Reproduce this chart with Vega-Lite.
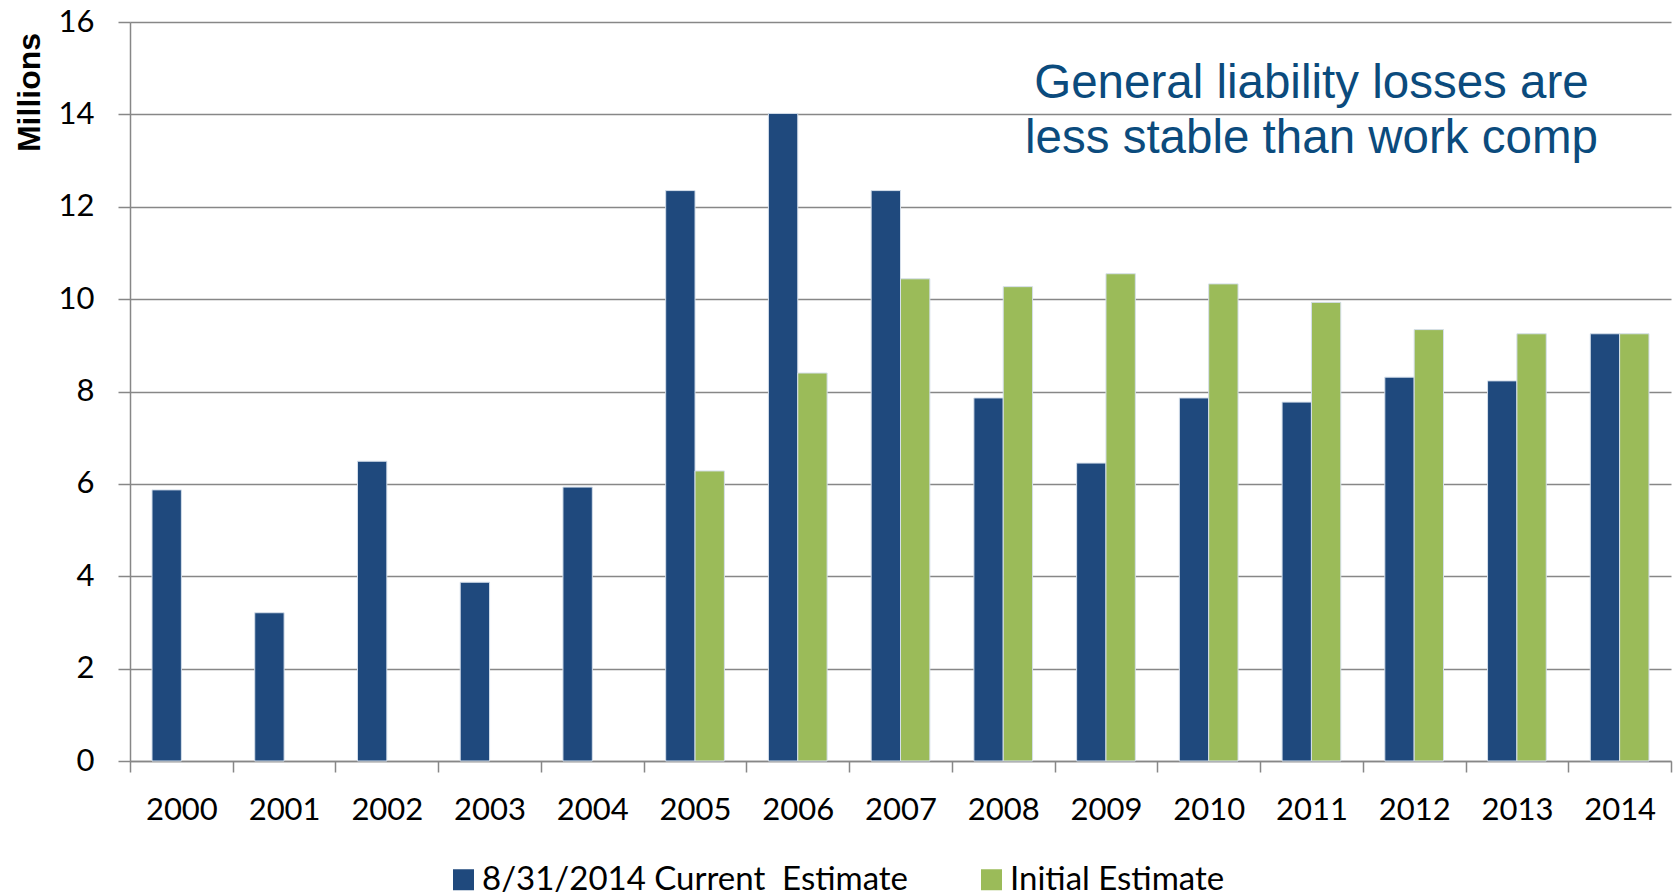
{
  "$schema": "https://vega.github.io/schema/vega-lite/v6.json",
  "autosize": "none",
  "width": 1541,
  "height": 739,
  "padding": {"left": 130, "top": 22, "right": 4, "bottom": 133},
  "background": "#ffffff",
  "config": {"view": {"stroke": null}},
  "datasets": {
    "losses": [
      {"year": "2000", "series": "8/31/2014 Current\u00a0 Estimate", "value": 5.87},
      {"year": "2001", "series": "8/31/2014 Current\u00a0 Estimate", "value": 3.21},
      {"year": "2002", "series": "8/31/2014 Current\u00a0 Estimate", "value": 6.49},
      {"year": "2003", "series": "8/31/2014 Current\u00a0 Estimate", "value": 3.87},
      {"year": "2004", "series": "8/31/2014 Current\u00a0 Estimate", "value": 5.93},
      {"year": "2005", "series": "8/31/2014 Current\u00a0 Estimate", "value": 12.35},
      {"year": "2006", "series": "8/31/2014 Current\u00a0 Estimate", "value": 14.02},
      {"year": "2007", "series": "8/31/2014 Current\u00a0 Estimate", "value": 12.35},
      {"year": "2008", "series": "8/31/2014 Current\u00a0 Estimate", "value": 7.86},
      {"year": "2009", "series": "8/31/2014 Current\u00a0 Estimate", "value": 6.45},
      {"year": "2010", "series": "8/31/2014 Current\u00a0 Estimate", "value": 7.86},
      {"year": "2011", "series": "8/31/2014 Current\u00a0 Estimate", "value": 7.77},
      {"year": "2012", "series": "8/31/2014 Current\u00a0 Estimate", "value": 8.31},
      {"year": "2013", "series": "8/31/2014 Current\u00a0 Estimate", "value": 8.23},
      {"year": "2014", "series": "8/31/2014 Current\u00a0 Estimate", "value": 9.25},
      {"year": "2005", "series": "Initial Estimate", "value": 6.28},
      {"year": "2006", "series": "Initial Estimate", "value": 8.40},
      {"year": "2007", "series": "Initial Estimate", "value": 10.44},
      {"year": "2008", "series": "Initial Estimate", "value": 10.27},
      {"year": "2009", "series": "Initial Estimate", "value": 10.55},
      {"year": "2010", "series": "Initial Estimate", "value": 10.33},
      {"year": "2011", "series": "Initial Estimate", "value": 9.93},
      {"year": "2012", "series": "Initial Estimate", "value": 9.34},
      {"year": "2013", "series": "Initial Estimate", "value": 9.25},
      {"year": "2014", "series": "Initial Estimate", "value": 9.25}
    ],
    "note": [
      {"year": "2011", "value": 14.36, "line": "General liability losses are"},
      {"year": "2011", "value": 13.16, "line": "less stable than work comp"}
    ]
  },
  "layer": [
    {
      "data": {"name": "losses"},
      "mark": {"type": "bar", "stroke": "#d5dfeb", "strokeWidth": 1},
      "encoding": {
        "x": {
          "field": "year",
          "type": "ordinal",
          "scale": {"paddingInner": 0, "paddingOuter": 0},
          "axis": {
            "title": null,
            "labelAngle": 0,
            "tickBand": "extent",
            "ticks": true,
            "tickSize": 11,
            "tickColor": "#878787",
            "tickWidth": 1.5,
            "domainColor": "#878787",
            "domainWidth": 1.5,
            "labelFont": "Lato",
            "labelFontSize": 31,
            "labelColor": "#000000",
            "labelPadding": 23,
            "grid": false
          }
        },
        "xOffset": {
          "field": "series",
          "type": "nominal",
          "sort": ["8/31/2014 Current\u00a0 Estimate", "Initial Estimate"],
          "scale": {"paddingInner": 0, "paddingOuter": 0.75}
        },
        "y": {
          "field": "value",
          "type": "quantitative",
          "scale": {"domain": [0, 16], "nice": false},
          "axis": {
            "values": [0, 2, 4, 6, 8, 10, 12, 14, 16],
            "grid": true,
            "gridColor": "#878787",
            "gridWidth": 1.5,
            "tickSize": 12,
            "tickColor": "#878787",
            "tickWidth": 1.5,
            "domainColor": "#878787",
            "domainWidth": 1.5,
            "labelFont": "Lato",
            "labelFontSize": 31,
            "labelColor": "#000000",
            "labelPadding": 24,
            "title": "Millions",
            "titleFont": "Liberation Sans",
            "titleFontWeight": "bold",
            "titleFontSize": 32,
            "titleColor": "#000000",
            "titleAngle": -90,
            "titleX": -101,
            "titleY": 70,
            "titleAlign": "center",
            "titleBaseline": "middle"
          }
        },
        "color": {
          "field": "series",
          "type": "nominal",
          "scale": {
            "domain": ["8/31/2014 Current\u00a0 Estimate", "Initial Estimate"],
            "range": ["#1F497D", "#9BBB59"]
          },
          "legend": {
            "title": null,
            "orient": "none",
            "direction": "horizontal",
            "legendX": 317,
            "legendY": 841,
            "padding": 0,
            "symbolType": "square",
            "symbolSize": 441,
            "symbolStrokeWidth": 0,
            "labelFont": "Lato",
            "labelFontSize": 33,
            "labelColor": "#000000",
            "labelOffset": 2,
            "labelLimit": 0,
            "columnPadding": 66
          }
        }
      }
    },
    {
      "data": {"name": "note"},
      "mark": {
        "type": "text",
        "font": "Liberation Sans",
        "fontSize": 47.5,
        "color": "#0b4b7d",
        "align": "center",
        "baseline": "alphabetic"
      },
      "encoding": {
        "x": {"field": "year", "type": "ordinal"},
        "y": {"field": "value", "type": "quantitative"},
        "text": {"field": "line"}
      }
    }
  ]
}
